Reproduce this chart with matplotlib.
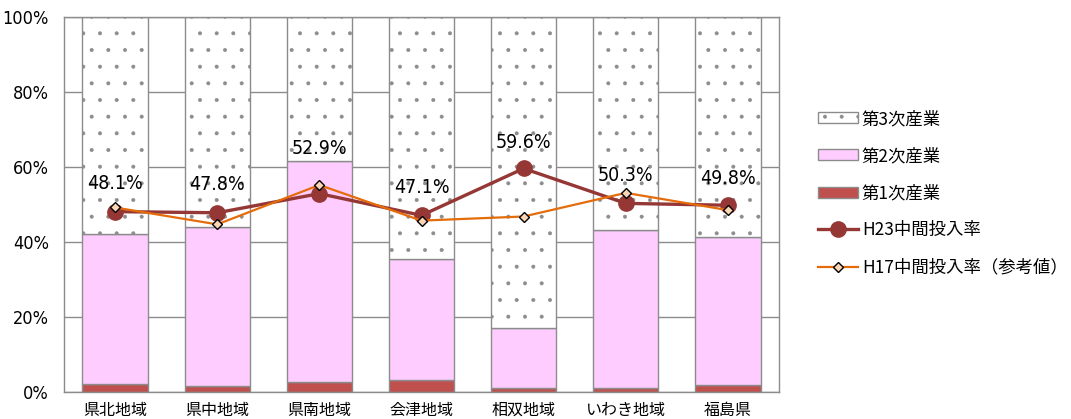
import matplotlib
matplotlib.use("Agg")
import matplotlib.pyplot as plt
import numpy as np
from matplotlib.patches import Patch
from matplotlib.lines import Line2D

plt.rcParams['font.family'] = ['Noto Sans CJK JP', 'DejaVu Sans']
plt.rcParams['hatch.color'] = '#000000'
plt.rcParams['hatch.linewidth'] = 0.4

categories = ['県北地域', '県中地域', '県南地域', '会津地域', '相双地域', 'いわき地域', '福島県']
primary = [2.1, 1.7, 2.6, 3.2, 1.2, 1.0, 1.9]
secondary = [40.0, 42.3, 59.1, 32.3, 15.8, 42.2, 39.5]
tertiary = [100 - a - b for a, b in zip(primary, secondary)]
h23 = [48.1, 47.8, 52.9, 47.1, 59.6, 50.3, 49.8]
h17 = [49.2, 44.7, 55.2, 45.7, 46.8, 53.1, 48.5]
yticks = [0, 20, 40, 60, 80, 100]
ytick_labels = ['0%', '20%', '40%', '60%', '80%', '100%']

fig = plt.figure(figsize=(10.71, 4.19), dpi=100)
ax = fig.add_axes([64/1071, 27/419, (779-64)/1071, (392-17)/419])

x = np.arange(len(categories))
w = 0.64
edge = '#8c8c8c'
ax.bar(x, primary, w, color='#C0504D', edgecolor=edge, linewidth=1, zorder=2)
ax.bar(x, secondary, w, bottom=primary, color='#FFCCFF', edgecolor=edge, linewidth=1, zorder=2)
bot3 = [a + b for a, b in zip(primary, secondary)]
ax.bar(x, tertiary, w, bottom=bot3, color='white', edgecolor=edge, linewidth=1, hatch='.', zorder=2)

ax.plot(x, h23, color='#953735', lw=2.4, marker='o', ms=11, mfc='#953735', mec='#953735', zorder=3)
ax.plot(x, h17, color='#E46C0A', lw=1.6, marker='D', ms=5.5, mfc='#FCD5B4', mec='black', mew=1.0, zorder=4)

num_font = dict(family='DejaVu Sans', stretch='condensed')
offsets = [28, 28, 45, 28, 26, 28, 27]
for i, v in enumerate(h23):
    ax.annotate(f'{v:.1f}%', (x[i], v), xytext=(0, offsets[i]), textcoords='offset pixels',
                ha='center', va='center', fontsize=14, zorder=5, **num_font)

ax.set_xlim(-0.5, len(categories) - 0.5)
ax.set_ylim(0, 100)
ax.set_yticks(yticks)
ax.set_yticklabels(ytick_labels, fontsize=13, **num_font)
ax.set_xticks(x)
ax.set_xticklabels(categories, fontsize=11.5)
ax.tick_params(axis='both', length=0)
ax.tick_params(axis='y', pad=11)
ax.tick_params(axis='x', pad=7)
ax.yaxis.grid(True, color=edge, lw=1, zorder=0)
ax.set_axisbelow(True)
for s in ['left', 'right', 'bottom', 'top']:
    ax.spines[s].set_color(edge)
    ax.spines[s].set_linewidth(1)

handles = [
    Patch(facecolor='white', edgecolor=edge, hatch='.', label='第3次産業'),
    Patch(facecolor='#FFCCFF', edgecolor=edge, label='第2次産業'),
    Patch(facecolor='#C0504D', edgecolor=edge, label='第1次産業'),
    Line2D([], [], color='#953735', lw=2.4, marker='o', ms=11, label='H23中間投入率'),
    Line2D([], [], color='#E46C0A', lw=1.6, marker='D', ms=5.5, mfc='#FCD5B4', mec='black', label='H17中間投入率（参考値）'),
]
fig.legend(handles=handles, loc='upper left', bbox_to_anchor=(811/1071, 1 - 103/419),
           frameon=False, fontsize=12.5, handlelength=2.3, handleheight=0.6,
           labelspacing=1.1, handletextpad=0.23, borderaxespad=0)

fig.savefig('out.png', dpi=100)
